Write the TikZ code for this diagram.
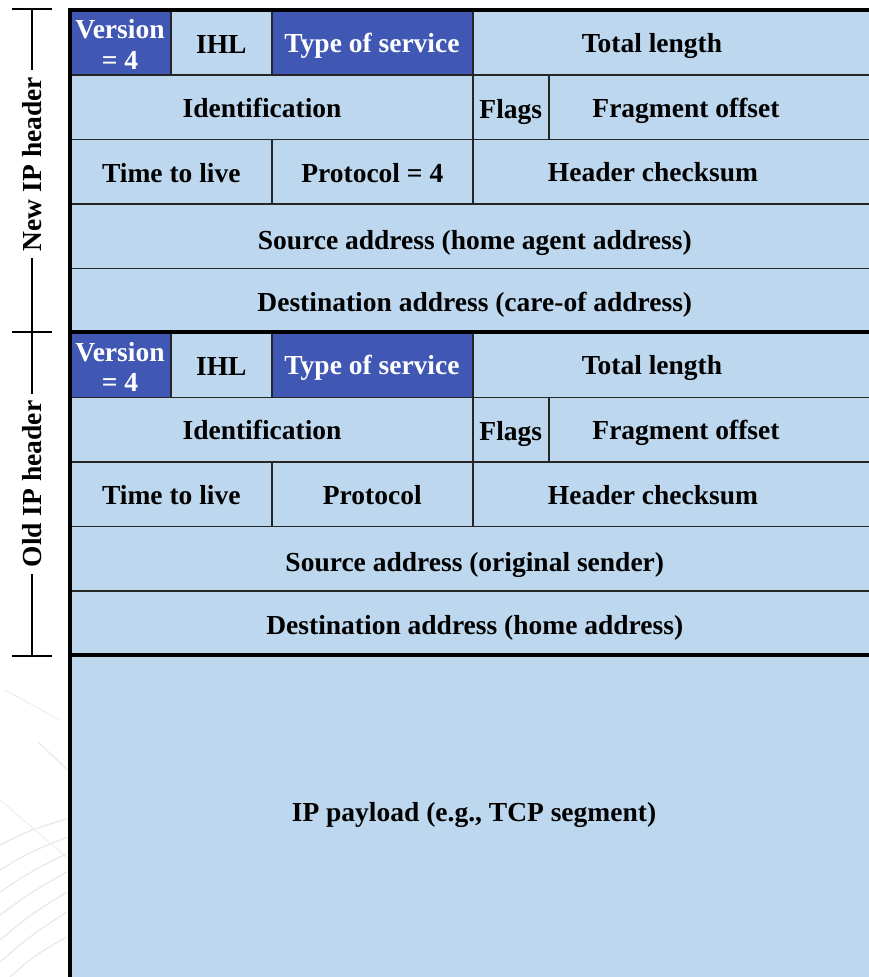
\documentclass[tikz,border=0pt]{standalone}
\usepackage{fontspec}
\setmainfont{Liberation Serif}
\definecolor{lightcell}{HTML}{BDD7EE}
\definecolor{deepblue}{HTML}{4058B4}
\begin{document}
\begin{tikzpicture}[x=1pt,y=-1pt,
  every node/.style={font=\bfseries\fontsize{27.5}{30.5}\selectfont},
  cell/.style={draw=black!85, line width=1.6pt, fill=lightcell, inner sep=0pt,
    anchor=north west, minimum height=64.4pt, text height=27.2pt, text depth=6pt},
  lowcell/.style={cell, text height=32pt},
  darkcell/.style={cell, fill=deepblue},
  caption/.style={inner sep=0pt, text height=27.2pt, text depth=6pt},
  whitecap/.style={inner sep=0pt, text=white, align=center},
  sidelabel/.style={rotate=90, inner xsep=7pt, inner ysep=0pt},
  bracket/.style={line width=1.5pt},
  heavy/.style={line width=4pt, line join=miter},
  streak/.style={black!9, line width=1.2pt},
]
\useasboundingbox (0,0) rectangle (869,977);
\begin{scope}
\clip (0,0) rectangle (869,977);

% faint background streaks at the lower left
\begin{scope}
\clip (0,650) rectangle (67,977);
\draw[streak] (38,742) -- (70,772);
\draw[streak] (0,845) .. controls (30,830) .. (70,818);
\draw[streak] (0,870) .. controls (30,852) .. (70,836);
\draw[streak] (0,892) .. controls (30,872) .. (70,852);
\draw[streak] (0,915) .. controls (30,893) .. (70,870);
\draw[streak] (0,940) .. controls (30,915) .. (70,890);
\draw[streak] (0,962) .. controls (30,936) .. (70,910);
\draw[streak] (10,977) .. controls (35,955) .. (70,935);
\draw[streak, black!6] (0,800) -- (70,860);
\draw[streak, black!6] (5,690) -- (60,720);
\end{scope}

% ---------- new (outer) IP header ----------
\node[darkcell, minimum width=100pt] (nver) at (70,10) {};
\node[whitecap] (nvert) at (120,44.5) {Version\\= 4};
\node[cell, minimum width=101pt] (nihl) at (170,10) {IHL};
\node[darkcell, minimum width=201pt] (ntos) at (271,10) {};
\node[caption, text=white] (ntost) at (372,42.2) {Type of service};
\node[cell, minimum width=420pt] (ntot) at (472,10) {};
\node[caption] (ntott) at (652,42.2) {Total length};

\node[cell, minimum width=402pt] (nid) at (70,74.4) {};
\node[caption] (nidt) at (262,106.6) {Identification};
\node[cell, minimum width=76pt] (nflg) at (472,74.4) {Flags};
\node[cell, minimum width=340pt] (nfrg) at (548,74.4) {};
\node[caption] (nfrgt) at (686,106.6) {Fragment offset};

\node[cell, minimum width=201pt] (nttl) at (70,138.8) {Time to live};
\node[cell, minimum width=201pt] (nprt) at (271,138.8) {Protocol = 4};
\node[cell, minimum width=420pt] (nchk) at (472,138.8) {};
\node[caption] (nchkt) at (653,171) {Header checksum};

\node[lowcell, minimum width=808pt] (nsrc) at (70,203.2) {Source address (home agent address)};
\node[cell, minimum width=808pt] (ndst) at (70,267.6) {Destination address (care-of address)};

% ---------- old (inner) IP header ----------
\node[darkcell, minimum width=100pt, minimum height=64.6pt] (over) at (70,332) {};
\node[whitecap] (overt) at (120,366.8) {Version\\= 4};
\node[cell, minimum width=101pt, minimum height=64.6pt] (oihl) at (170,332) {IHL};
\node[darkcell, minimum width=201pt, minimum height=64.6pt] (otos) at (271,332) {};
\node[caption, text=white] (otost) at (372,364.3) {Type of service};
\node[cell, minimum width=420pt, minimum height=64.6pt] (otot) at (472,332) {};
\node[caption] (otott) at (652,364.3) {Total length};

\node[cell, minimum width=402pt, minimum height=64.6pt] (oid) at (70,396.6) {};
\node[caption] (oidt) at (262,428.9) {Identification};
\node[cell, minimum width=76pt, minimum height=64.6pt] (oflg) at (472,396.6) {Flags};
\node[cell, minimum width=340pt, minimum height=64.6pt] (ofrg) at (548,396.6) {};
\node[caption] (ofrgt) at (686,428.9) {Fragment offset};

\node[cell, minimum width=201pt, minimum height=64.6pt] (ottl) at (70,461.2) {Time to live};
\node[cell, minimum width=201pt, minimum height=64.6pt] (oprt) at (271,461.2) {Protocol};
\node[cell, minimum width=420pt, minimum height=64.6pt] (ochk) at (472,461.2) {};
\node[caption] (ochkt) at (653,493.5) {Header checksum};

\node[lowcell, minimum width=808pt, minimum height=64.6pt] (osrc) at (70,525.8) {Source address (original sender)};
\node[cell, minimum width=808pt, minimum height=64.6pt] (odst) at (70,590.4) {Destination address (home address)};

% ---------- payload ----------
\node[cell, minimum width=808pt, minimum height=340pt] (pay) at (70,655) {};
\node[caption] (payt) at (474,810.5) {IP payload (e.g., TCP segment)};

% heavy frame lines
\draw[heavy] (70,995) -- (70,10) -- (890,10);
\draw[heavy] (70,332) -- (890,332);
\draw[heavy] (70,655) -- (890,655);
\end{scope}

% ---------- side brackets ----------
\coordinate (ntop) at (32,9);
\coordinate (nmid) at (32,332);
\coordinate (obot) at (32,656);
\draw[bracket] (12,9) -- (52,9);
\draw[bracket] (12,332) -- (52,332);
\draw[bracket] (12,656) -- (52,656);

\node[sidelabel] (newlbl) at (32,164) {New IP header};
\node[sidelabel] (oldlbl) at (32,484) {Old IP header};

\draw[bracket] (ntop) -- (newlbl.east);
\draw[bracket] (newlbl.west) -- (nmid);
\draw[bracket] (nmid) -- (oldlbl.east);
\draw[bracket] (oldlbl.west) -- (obot);
\end{tikzpicture}
\end{document}
